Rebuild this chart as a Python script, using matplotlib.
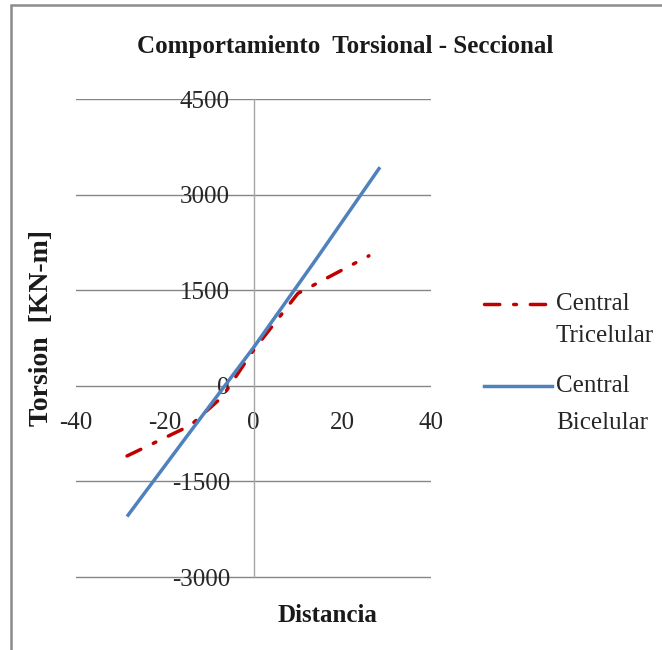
import matplotlib
matplotlib.use("Agg")
import matplotlib.pyplot as plt
from matplotlib.lines import Line2D
from matplotlib.patches import Rectangle

# data
dist_tri = [-28.5, -14.2, -7.0, 0.0, 10.0, 26.0]
tors_tri = [-1100, -620, -170, 560, 1450, 2040]
dist_bi = [-28.5, -14.25, 0.0, 14.25, 28.5]
tors_bi = [-2050, -720, 600, 2000, 3430]

x_ticks = [-40, -20, 0, 20, 40]
y_ticks = [-3000, -1500, 0, 1500, 3000, 4500]

red = '#C00000'
blue = '#4F81BD'
grid_col = '#868686'

plt.rcParams['font.family'] = ['Liberation Serif', 'DejaVu Serif']
plt.rcParams['axes.unicode_minus'] = False
plt.rcParams['lines.scale_dashes'] = False

W, H = 662, 650
fig = plt.figure(figsize=(W / 100, H / 100), dpi=100)

# chart frame (cut off at right and bottom)
fig.add_artist(Rectangle((11 / W, -0.1), 1.2, 1.1 - 5 / H, transform=fig.transFigure,
                         fill=False, edgecolor='#8c8c8c', linewidth=1.8))

# a little margin below -3000 so its gridline is not clipped
ax = fig.add_axes([76 / W, 1 - 579 / H, (431 - 76) / W, (579 - 99) / H])
ax.set_xlim(-40, 40)
ax.set_ylim(-3030, 4500)

ax.plot(dist_tri, tors_tri, color=red, linewidth=2.5, dashes=(11, 10, 2, 10),
        dash_capstyle='round', zorder=3)
ax.plot(dist_bi, tors_bi, color=blue, linewidth=2.5, solid_capstyle='butt', zorder=4)

ax.set_xticks(x_ticks)
ax.set_yticks(y_ticks)
ax.yaxis.grid(True, color=grid_col, linewidth=1.0)
ax.set_axisbelow(True)

for s in ['top', 'right']:
    ax.spines[s].set_visible(False)
ax.spines['left'].set_position(('data', 0))
ax.spines['left'].set_bounds(-3000, 4500)
ax.spines['left'].set_color('#a6a6a6')
ax.spines['left'].set_linewidth(1.0)
ax.spines['bottom'].set_position(('data', 0))
ax.spines['bottom'].set_visible(False)

ax.tick_params(axis='y', length=0, pad=17, labelsize=18, labelcolor='#262626')
ax.tick_params(axis='x', length=0, pad=19, labelsize=18, labelcolor='#262626')
ax.patch.set_alpha(0)

fig.text(345 / W, 1 - 46 / H, 'Comportamiento  Torsional - Seccional', ha='center', va='center',
         fontsize=18, fontweight='bold', color='#1a1a1a')
fig.text(327 / W, 1 - 615 / H, 'Distancia', ha='center', va='center',
         fontsize=18, fontweight='bold', color='#1a1a1a')
fig.text(42 / W, 1 - 328 / H, 'Torsion  [KN-m]', ha='center', va='center', rotation=90,
         fontsize=20, fontweight='bold', color='#1a1a1a')

# legend
fig.add_artist(Line2D([484 / W, 552 / W], [1 - 304 / H, 1 - 304 / H], transform=fig.transFigure,
                      color=red, linewidth=2.5, dashes=(11, 10, 2, 10), dash_capstyle='round'))
fig.add_artist(Line2D([484 / W, 552 / W], [1 - 386 / H, 1 - 386 / H], transform=fig.transFigure,
                      color=blue, linewidth=2.5))
legend_rows = [('Central', 304), ('Tricelular', 336), ('Central', 386), ('Bicelular', 423)]
for txt, yy in legend_rows:
    fig.text(556 / W, 1 - yy / H, txt, ha='left', va='center', fontsize=18, color='#262626')

fig.savefig('out.png', dpi=100)
